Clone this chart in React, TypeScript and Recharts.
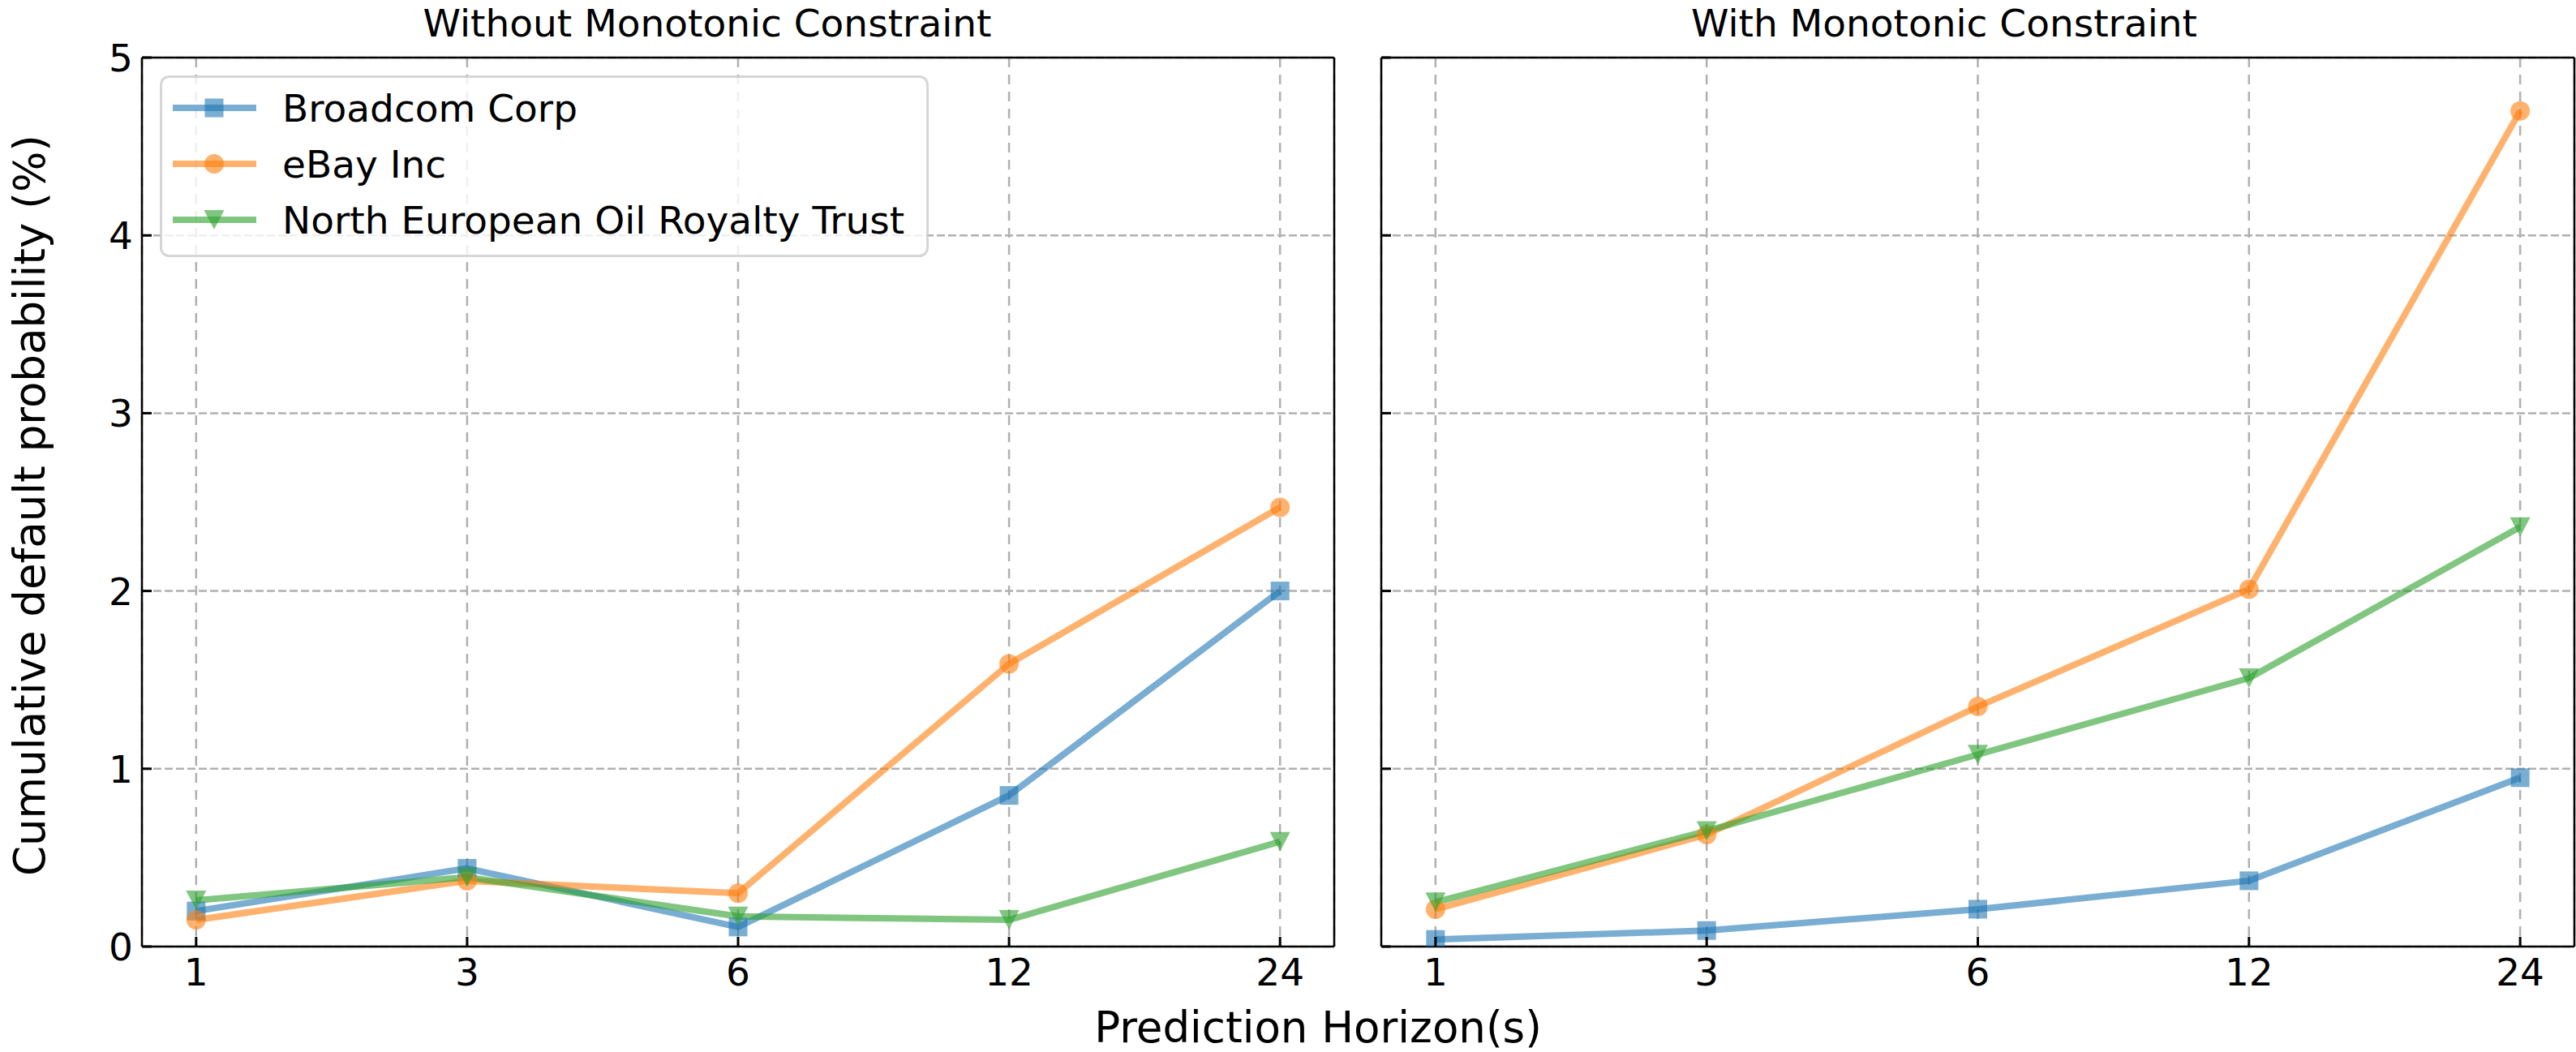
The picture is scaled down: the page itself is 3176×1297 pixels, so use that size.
import {
  LineChart,
  Line,
  XAxis,
  YAxis,
  CartesianGrid,
  ReferenceLine,
  Legend,
} from "recharts";

const FONT = "DejaVu Sans";

const HORIZONS = ["1", "3", "6", "12", "24"];
const SERIES_NAMES = ["Broadcom Corp", "eBay Inc", "North European Oil Royalty Trust"];
const SERIES_KEYS = ["broadcom", "ebay", "neort"];
const SERIES_COLORS = ["#1f77b4", "#ff7f0e", "#2ca02c"];
const SERIES_SHAPES = ["square", "circle", "triangle"];

// Without monotonic constraint
const BROADCOM_FREE = [0.2, 0.44, 0.11, 0.85, 2.0];
const EBAY_FREE = [0.15, 0.37, 0.3, 1.59, 2.47];
const NEORT_FREE = [0.26, 0.39, 0.17, 0.15, 0.59];

// With monotonic constraint
const BROADCOM_MONO = [0.04, 0.09, 0.21, 0.37, 0.95];
const EBAY_MONO = [0.21, 0.63, 1.35, 2.01, 4.7];
const NEORT_MONO = [0.25, 0.65, 1.08, 1.51, 2.36];

const Y_TICKS = [0, 1, 2, 3, 4, 5];
const X_TICKS = HORIZONS.map((_, i) => i);

const buildRows = (b: number[], e: number[], n: number[]) =>
  HORIZONS.map((h, i) => ({ idx: i, horizon: h, broadcom: b[i], ebay: e[i], neort: n[i] }));

const freeRows = buildRows(BROADCOM_FREE, EBAY_FREE, NEORT_FREE);
const monoRows = buildRows(BROADCOM_MONO, EBAY_MONO, NEORT_MONO);

function Marker({ shape, cx, cy, color }: { shape: string; cx: number; cy: number; color: string }) {
  if (cx == null || cy == null) return null;
  if (shape === "square")
    return <rect x={cx - 11.5} y={cy - 11.5} width={23} height={23} fill={color} fillOpacity={0.6} />;
  if (shape === "circle") return <circle cx={cx} cy={cy} r={12} fill={color} fillOpacity={0.6} />;
  return (
    <polygon
      points={`${cx - 12.5},${cy - 12} ${cx + 12.5},${cy - 12} ${cx},${cy + 12}`}
      fill={color}
      fillOpacity={0.6}
    />
  );
}

const YTickLabeled = (props: any) => {
  const { x, y, payload } = props;
  return (
    <g>
      <line x1={x} x2={x + 12} y1={y} y2={y} stroke="#000" strokeWidth={3} />
      <text x={x - 11} y={y + 17} textAnchor="end" fontSize={47} fontFamily={FONT} fill="#000">
        {payload.value}
      </text>
    </g>
  );
};

const YTickBare = (props: any) => {
  const { x, y } = props;
  return <line x1={x} x2={x + 12} y1={y} y2={y} stroke="#000" strokeWidth={3} />;
};

const XTick = (props: any) => {
  const { x, y, payload } = props;
  return (
    <g>
      <line x1={x} x2={x} y1={y} y2={y - 12} stroke="#000" strokeWidth={3} />
      <text x={x} y={y + 48} textAnchor="middle" fontSize={47} fontFamily={FONT} fill="#000">
        {HORIZONS[payload.value]}
      </text>
    </g>
  );
};

const LegendBox = (props: any) => {
  // keep the plotting order, not the library's alphabetical one
  const payload = [...(props.payload ?? [])].sort(
    (a: any, b: any) => SERIES_KEYS.indexOf(a.dataKey) - SERIES_KEYS.indexOf(b.dataKey)
  );
  return (
    <svg width={948} height={224} style={{ display: "block" }}>
      <rect
        x={1.5}
        y={1.5}
        width={945}
        height={221}
        rx={10}
        fill="#fff"
        fillOpacity={0.8}
        stroke="#cccccc"
        strokeOpacity={0.8}
        strokeWidth={3}
      />
      {payload.map((entry: any, i: number) => {
        const k = SERIES_KEYS.indexOf(entry.dataKey);
        const cy = 40 + 69 * i;
        return (
          <g key={entry.value}>
            <line
              x1={16}
              x2={119}
              y1={cy}
              y2={cy}
              stroke={SERIES_COLORS[k]}
              strokeOpacity={0.6}
              strokeWidth={8}
            />
            <Marker shape={SERIES_SHAPES[k]} cx={67} cy={cy} color={SERIES_COLORS[k]} />
            <text x={151} y={cy + 17} fontSize={47} fontFamily={FONT} fill="#000">
              {entry.value}
            </text>
          </g>
        );
      })}
    </svg>
  );
};

function Panel({
  rows,
  left,
  width,
  yWidth,
  marginRight,
  showYLabels,
  showLegend,
}: {
  rows: any[];
  left: number;
  width: number;
  yWidth: number;
  marginRight: number;
  showYLabels: boolean;
  showLegend: boolean;
}) {
  return (
    <div style={{ position: "absolute", left, top: 0 }}>
      <LineChart
        width={width}
        height={1297}
        data={rows}
        margin={{ top: 71, right: marginRight, left: 0, bottom: 0 }}
      >
        <CartesianGrid horizontal={false} stroke="#b0b0b0" strokeWidth={2.5} strokeDasharray="12 9" />
        <CartesianGrid vertical={false} stroke="#b0b0b0" strokeWidth={2.5} strokeDasharray="10 4" />
        {SERIES_KEYS.map((key, k) => (
          <Line
            key={key}
            type="linear"
            dataKey={key}
            name={SERIES_NAMES[k]}
            stroke={SERIES_COLORS[k]}
            strokeOpacity={0.6}
            strokeWidth={8}
            strokeLinejoin="round"
            dot={(p: any) => (
              <Marker key={`${key}-${p.index}`} shape={SERIES_SHAPES[k]} cx={p.cx} cy={p.cy} color={SERIES_COLORS[k]} />
            )}
            activeDot={false}
            isAnimationActive={false}
          />
        ))}
        <XAxis
          type="number"
          dataKey="idx"
          domain={[-0.2, 4.2]}
          ticks={X_TICKS}
          interval={0}
          allowDataOverflow
          height={130}
          tickSize={0}
          tickMargin={0}
          tickLine={false}
          axisLine={{ stroke: "#000", strokeWidth: 2.5 }}
          tick={XTick}
        />
        <YAxis
          type="number"
          domain={[0, 5]}
          ticks={Y_TICKS}
          interval={0}
          allowDataOverflow
          width={yWidth}
          tickSize={0}
          tickMargin={0}
          tickLine={false}
          axisLine={{ stroke: "#000", strokeWidth: 2.5 }}
          tick={showYLabels ? YTickLabeled : YTickBare}
        />
        <ReferenceLine y={5} stroke="#000" strokeWidth={2.5} />
        <ReferenceLine x={4.2} stroke="#000" strokeWidth={2.5} />
        {showLegend && (
          <Legend
            layout="vertical"
            align="center"
            verticalAlign="middle"
            itemSorter={null as any}
            content={LegendBox}
            wrapperStyle={{ left: 197, top: 93, width: 948, height: 224 }}
          />
        )}
      </LineChart>
    </div>
  );
}

export default function App() {
  return (
    <div
      style={{
        position: "absolute",
        left: 0,
        top: 0,
        width: 3176,
        height: 1297,
        background: "#fff",
        overflow: "hidden",
      }}
    >
      <Panel rows={freeRows} left={0} width={1660} yWidth={175} marginRight={15} showYLabels showLegend />
      <Panel
        rows={monoRows}
        left={1660}
        width={1516}
        yWidth={43}
        marginRight={2}
        showYLabels={false}
        showLegend={false}
      />
      <svg
        width={3176}
        height={1297}
        style={{ position: "absolute", left: 0, top: 0, pointerEvents: "none" }}
      >
        <text x={872} y={45} textAnchor="middle" fontSize={47} fontFamily={FONT} fill="#000">
          Without Monotonic Constraint
        </text>
        <text x={2397} y={45} textAnchor="middle" fontSize={47} fontFamily={FONT} fill="#000">
          With Monotonic Constraint
        </text>
        <text x={1625} y={1285} textAnchor="middle" fontSize={53} fontFamily={FONT} fill="#000">
          Prediction Horizon(s)
        </text>
        <text
          transform="translate(55,623) rotate(-90)"
          textAnchor="middle"
          fontSize={53}
          fontFamily={FONT}
          fill="#000"
        >
          Cumulative default probability (%)
        </text>
      </svg>
    </div>
  );
}
